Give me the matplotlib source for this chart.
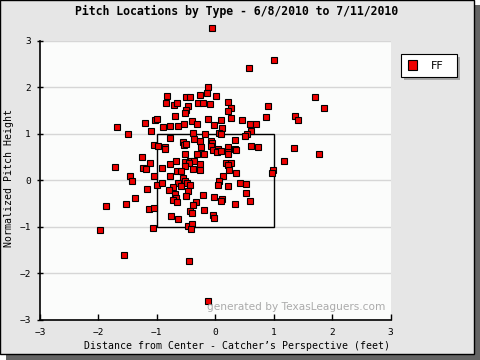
import matplotlib.pyplot as plt
from matplotlib.patches import Rectangle

# pitch locations (FF), feet from center / normalized height
px = [-0.05, -1.68, -1.49, -1.20, -1.03, -1.00, -1.10, -1.05, -0.98, -1.25,
      -1.11, -1.71, -1.23, -1.18, -1.46, -1.05, -1.42, -1.17, -0.99, -1.37,
      -1.87, -1.53, -1.13, -1.05, -1.97, -1.06, -1.56,
      1.01, 1.70, 1.87, 1.37, 1.41, 1.35, 1.78, 1.17, 0.99, 0.98,
      0.57, -0.12, -0.82, -0.50, -0.43, -0.26, -0.14, 0.02, -0.84, -0.70,
      -0.65, -0.46, -0.50, -0.29, -0.21, -0.09, 0.22, 0.27, 0.22, 0.91,
      -0.51, -0.69, 0.87, -0.39, -0.12, 0.09, 0.27, 0.45, -0.53, -0.31,
      0.60, 0.69, -0.89, -0.77, -0.63, -0.02, 0.12, 0.62, -0.38, -0.17,
      0.07, 0.09, 0.55, 0.51, -0.77, -0.36, -0.26, -0.07, 0.33, -0.55,
      -0.05, -0.53, -0.50, -0.07, -0.86, -0.86, -0.24, 0.21, 0.62, 0.74,
      0.34, 0.36, -0.03, 0.05, 0.07, 0.03, 0.09, 0.22, 0.22, -0.51,
      -0.31, -0.19, -0.67, -0.43, -0.36, -0.51, -0.45, -0.26, 0.19, 0.27,
      0.21, -0.77, -0.51, -0.91, -0.38, -0.26, -0.65, -0.58, 0.24, 0.36,
      -0.77, -0.55, 0.14,
      -0.91, -0.51, -0.63, -0.72, -0.58, -0.48, -0.43, 0.07, 0.05, 0.21,
      0.43, 0.53, -0.79, -0.46, -0.69, -0.67, -0.50, -0.21, -0.02, 0.53,
      -0.72, -0.65, -0.33, -0.38, 0.12, 0.10, 0.34, 0.60, -0.19, -0.43,
      -0.39, -0.03, -0.02, -0.75, -0.63, -0.46, -0.39, -0.41, -0.45, -0.12]
pz = [3.27, 1.15, 1.00, 1.24, 1.29, 1.32, 1.06, 0.76, 0.74, 0.50,
      0.37, 0.29, 0.26, 0.24, 0.10, 0.09, -0.02, -0.19, -0.10, -0.39,
      -0.56, -0.52, -0.62, -0.60, -1.08, -1.03, -1.62,
      2.58, 1.80, 1.56, 1.39, 1.30, 0.70, 0.57, 0.42, 0.22, 0.16,
      2.41, 2.00, 1.82, 1.80, 1.80, 1.84, 1.87, 1.82, 1.67, 1.63,
      1.67, 1.61, 1.52, 1.67, 1.67, 1.65, 1.69, 1.56, 1.50, 1.61,
      1.45, 1.39, 1.37, 1.28, 1.32, 1.30, 1.35, 1.30, 1.22, 1.22,
      1.22, 1.22, 1.15, 1.17, 1.17, 1.19, 1.13, 1.06, 1.02, 1.00,
      1.02, 1.00, 1.00, 0.96, 0.91, 0.89, 0.85, 0.85, 0.87, 0.83,
      0.81, 0.76, 0.78, 0.74, 0.72, 0.68, 0.72, 0.72, 0.74, 0.72,
      0.68, 0.66, 0.65, 0.68, 0.63, 0.61, 0.63, 0.61, 0.57, 0.57,
      0.57, 0.57, 0.42, 0.42, 0.42, 0.39, 0.37, 0.35, 0.37, 0.37,
      0.33, 0.35, 0.31, 0.26, 0.24, 0.22, 0.20, 0.20, 0.22, 0.16,
      0.09, 0.05, 0.09,
      -0.06, -0.02, -0.06, -0.15, -0.13, -0.06, -0.10, -0.02, -0.10, -0.13,
      -0.06, -0.08, -0.21, -0.23, -0.30, -0.39, -0.34, -0.32, -0.36, -0.28,
      -0.43, -0.47, -0.47, -0.54, -0.41, -0.45, -0.52, -0.45, -0.65, -0.67,
      -0.71, -0.75, -0.82, -0.78, -0.84, -0.99, -0.95, -1.06, -1.75, -2.61]

ticks = [-3, -2, -1, 0, 1, 2, 3]
zone = (-1.0, -1.0, 2.0, 2.0)  # strike zone left, bottom, width, height

mono = 'DejaVu Sans Mono'

fig = plt.figure(figsize=(4.8, 3.6), dpi=100, facecolor='white')

# background panel with drop shadow
fig.patches.append(Rectangle((6 / 480, 0), 474 / 480, 355 / 360,
                             transform=fig.transFigure, facecolor='#646464',
                             edgecolor='none', zorder=-3))
fig.patches.append(Rectangle((0, 6 / 360), 474 / 480, 354 / 360,
                             transform=fig.transFigure, facecolor='#e6e6e6',
                             edgecolor='black', linewidth=1.0, zorder=-2))

ax = fig.add_axes([40 / 480, 40.5 / 360, 350.5 / 480, 278.5 / 360])
ax.set_facecolor('#fbfcfb')
ax.set_xlim(-3, 3)
ax.set_ylim(-3, 3)
ax.set_xticks(ticks)
ax.set_yticks(ticks)
ax.set_xticklabels([str(t).replace('-', '\u2212') for t in ticks],
                   family=mono, fontsize=6.8)
ax.set_yticklabels([str(t).replace('-', '\u2212') for t in ticks],
                   family=mono, fontsize=6.8)
ax.tick_params(axis='x', direction='in', length=4, width=1, pad=6)
ax.tick_params(axis='y', direction='inout', length=4, width=1, pad=4.5)
for s in ['top', 'right']:
    ax.spines[s].set_visible(False)
for s in ['left', 'bottom']:
    ax.spines[s].set_linewidth(1.2)
ax.grid(axis='y', color='#d6d6d6', linewidth=1)
ax.set_axisbelow(True)

ax.add_patch(Rectangle(zone[:2], zone[2], zone[3], fill=False,
                       edgecolor='black', linewidth=1.0, zorder=2))

ax.plot(px, pz, 's', color='#ee0000', markeredgecolor='black',
        markeredgewidth=0.8, markersize=4.4, clip_on=False, zorder=3)

ax.text(0.985, 0.045, 'generated by TexasLeaguers.com', transform=ax.transAxes,
        ha='right', va='center', color='#ababab', fontsize=7.6)

fig.text(237 / 480, 1 - 11 / 360, 'Pitch Locations by Type - 6/8/2010 to 7/11/2010',
         ha='center', va='center', family=mono, fontweight='bold', fontsize=8.3)
fig.text(237 / 480, 1 - 346 / 360,
         'Distance from Center - Catcher\u2019s Perspective (feet)',
         ha='center', va='center', family=mono, fontsize=7.1)
fig.text(9 / 480, 1 - 178 / 360, 'Normalized Pitch Height', rotation=90,
         ha='center', va='center', family=mono, fontsize=7.1)

# legend box with shadow
fig.patches.append(Rectangle((403.5 / 480, 1 - 80 / 360), 56 / 480, 23 / 360,
                             transform=fig.transFigure, facecolor='#a8a8a8',
                             edgecolor='none', zorder=1))
fig.patches.append(Rectangle((400.5 / 480, 1 - 77 / 360), 56 / 480, 23 / 360,
                             transform=fig.transFigure, facecolor='white',
                             edgecolor='black', linewidth=0.8, zorder=2))
fig.patches.append(Rectangle((407.5 / 480, 1 - 69.5 / 360), 9 / 480, 9 / 360,
                             transform=fig.transFigure, facecolor='#ee0000',
                             edgecolor='black', linewidth=0.8, zorder=3))
fig.text(437 / 480, 1 - 66 / 360, 'FF', ha='center', va='center',
         fontsize=8, zorder=4)

fig.savefig('out.png', dpi=100)
